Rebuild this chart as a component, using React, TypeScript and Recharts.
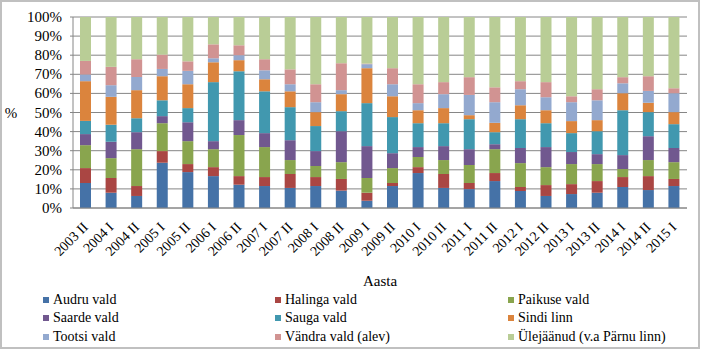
import React from 'react';
import { BarChart, Bar, XAxis, YAxis, CartesianGrid } from 'recharts';

const categories = ['2003 II','2004 I','2004 II','2005 I','2005 II','2006 I','2006 II','2007 I','2007 II','2008 I','2008 II','2009 I','2009 II','2010 I','2010 II','2011 I','2011 II','2012 I','2012 II','2013 I','2013 II','2014 I','2014 II','2015 I'];

const audru = [13.1, 8.0, 6.3, 23.7, 18.8, 16.7, 12.2, 11.5, 10.5, 11.5, 9.1, 3.8, 11.5, 18.3, 10.5, 9.9, 14.1, 8.9, 6.3, 7.3, 8.0, 11.0, 9.4, 11.5];
const halinga = [7.8, 7.7, 5.2, 6.1, 4.2, 4.7, 4.5, 4.7, 7.3, 4.7, 6.1, 4.2, 1.6, 3.1, 7.3, 3.2, 4.2, 2.1, 5.7, 5.2, 6.1, 5.2, 7.3, 3.7];
const paikuse = [12.0, 10.4, 19.3, 14.6, 12.0, 9.4, 21.5, 15.7, 7.3, 5.8, 8.8, 7.7, 7.8, 5.3, 7.3, 9.4, 12.5, 12.5, 9.4, 10.5, 8.9, 4.2, 8.4, 8.8];
const saarde = [5.8, 8.6, 8.9, 3.7, 9.9, 4.2, 7.8, 7.3, 10.4, 7.8, 16.2, 16.7, 7.8, 5.2, 7.3, 8.3, 2.6, 7.9, 10.5, 6.3, 5.2, 7.3, 12.5, 7.4];
const sauga = [6.9, 8.9, 7.3, 8.3, 7.4, 30.9, 25.6, 21.9, 17.3, 13.1, 10.5, 22.5, 18.9, 12.5, 12.0, 15.7, 6.3, 15.1, 12.5, 9.9, 12.0, 23.5, 12.6, 12.5];
const sindi = [20.8, 14.6, 14.7, 12.6, 12.5, 10.4, 5.8, 6.3, 8.3, 7.3, 8.9, 18.3, 10.9, 6.8, 7.9, 2.1, 4.9, 7.3, 6.8, 6.3, 5.8, 8.9, 4.9, 6.3];
const tootsi = [3.5, 6.1, 6.9, 3.8, 7.0, 2.1, 2.6, 4.7, 3.7, 5.2, 2.1, 2.1, 6.3, 3.7, 7.3, 10.6, 10.8, 8.4, 6.8, 9.9, 10.4, 5.2, 6.2, 9.9];
const vandra = [7.1, 9.6, 9.3, 7.5, 5.0, 7.3, 5.2, 5.8, 7.8, 9.4, 14.1, 0.3, 8.4, 9.9, 6.3, 9.3, 7.8, 4.2, 7.9, 3.1, 5.8, 3.2, 7.7, 2.6];
const ulejaanud = [23.0, 26.1, 22.1, 19.7, 23.2, 14.3, 14.8, 22.1, 27.4, 35.2, 24.2, 24.4, 26.8, 35.2, 34.1, 31.5, 36.8, 33.6, 34.1, 41.5, 37.8, 31.5, 31.0, 37.3];

const yTicks = [0, 0.1, 0.2, 0.3, 0.4, 0.5, 0.6, 0.7, 0.8, 0.9, 1];

const seriesNames = ['Audru vald', 'Halinga vald', 'Paikuse vald', 'Saarde vald', 'Sauga vald', 'Sindi linn', 'Tootsi vald', 'Vändra vald (alev)', 'Ülejäänud (v.a Pärnu linn)'];
const seriesValues = [audru, halinga, paikuse, saarde, sauga, sindi, tootsi, vandra, ulejaanud];
const seriesColors = ['#4572A7', '#AA4643', '#89A54E', '#71588F', '#4198AF', '#DB843D', '#93A9CF', '#D19392', '#B9CD96'];

const data = categories.map((c, i) => {
  const row: Record<string, string | number> = { name: c };
  seriesNames.forEach((s, k) => { row['s' + k] = seriesValues[k][i]; });
  return row;
});

const FONT = 'Liberation Serif, DejaVu Serif, serif';

const XTick = (props: any) => {
  const { x, y, payload } = props;
  return (
    <g transform={`translate(${x + 3},${y + 20})`}>
      <text x={0} y={0} textAnchor="end" transform="rotate(-45)" style={{ fontFamily: FONT }} fontSize={14} fill="#000">
        {payload.value}
      </text>
    </g>
  );
};

const YTick = (props: any) => {
  const { x, y, payload } = props;
  return (
    <text x={x} y={y} dy={5} textAnchor="end" style={{ fontFamily: FONT }} fontSize={15} fill="#000">
      {`${Math.round(payload.value * 100)}%`}
    </text>
  );
};

const legendCols = [43, 275, 508];
const legendRows = [300, 318, 337];

export default function App() {
  return (
    <div style={{ position: 'absolute', left: 0, top: 0, width: 702, height: 350, background: '#fff', fontFamily: FONT }}>
      <BarChart
        width={702}
        height={350}
        data={data}
        stackOffset="expand"
        margin={{ top: 17, right: 15, left: 0, bottom: 0 }}
        barSize={11}
      >
        <CartesianGrid horizontal={true} vertical={false} stroke="#868686" strokeWidth={1} />
        <XAxis
          dataKey="name"
          height={142}
          tick={<XTick />}
          tickLine={false}
          tickSize={0}
          tickMargin={0}
          interval={0}
          axisLine={{ stroke: '#868686' }}
          label={{
            content: () => (
              <text x={380} y={286} textAnchor="middle" style={{ fontFamily: FONT }} fontSize={15} fill="#000">Aasta</text>
            ),
          }}
        />
        <YAxis
          width={73}
          domain={[0, 1]}
          ticks={yTicks}
          interval={0}
          tick={<YTick />}
          tickSize={3}
          tickMargin={8}
          tickLine={{ stroke: '#868686' }}
          axisLine={{ stroke: '#868686' }}
          label={{
            content: () => (
              <text x={11} y={118} textAnchor="middle" style={{ fontFamily: FONT }} fontSize={15} fill="#000">%</text>
            ),
          }}
        />
        {seriesNames.map((s, k) => (
          <Bar key={s} dataKey={'s' + k} name={s} stackId="a" fill={seriesColors[k]} isAnimationActive={false} />
        ))}
      </BarChart>
      <div style={{ position: 'absolute', left: 0, top: 0, width: 702, height: 350, pointerEvents: 'none' }}>
        {seriesNames.map((s, k) => {
          const col = k % 3;
          const row = Math.floor(k / 3);
          return (
            <div key={s} style={{ position: 'absolute', left: legendCols[col], top: legendRows[row] - 9, height: 18, display: 'flex', alignItems: 'center', fontFamily: FONT, fontSize: 14, color: '#000', whiteSpace: 'nowrap' }}>
              <span style={{ display: 'inline-block', width: 6, height: 6, background: seriesColors[k], marginRight: 4 }} />
              <span>{s}</span>
            </div>
          );
        })}
      </div>
      <div style={{ position: 'absolute', left: 0, top: 0, width: 700, height: 349, border: '2px solid #c0c0c0', boxSizing: 'border-box', pointerEvents: 'none' }} />
    </div>
  );
}
